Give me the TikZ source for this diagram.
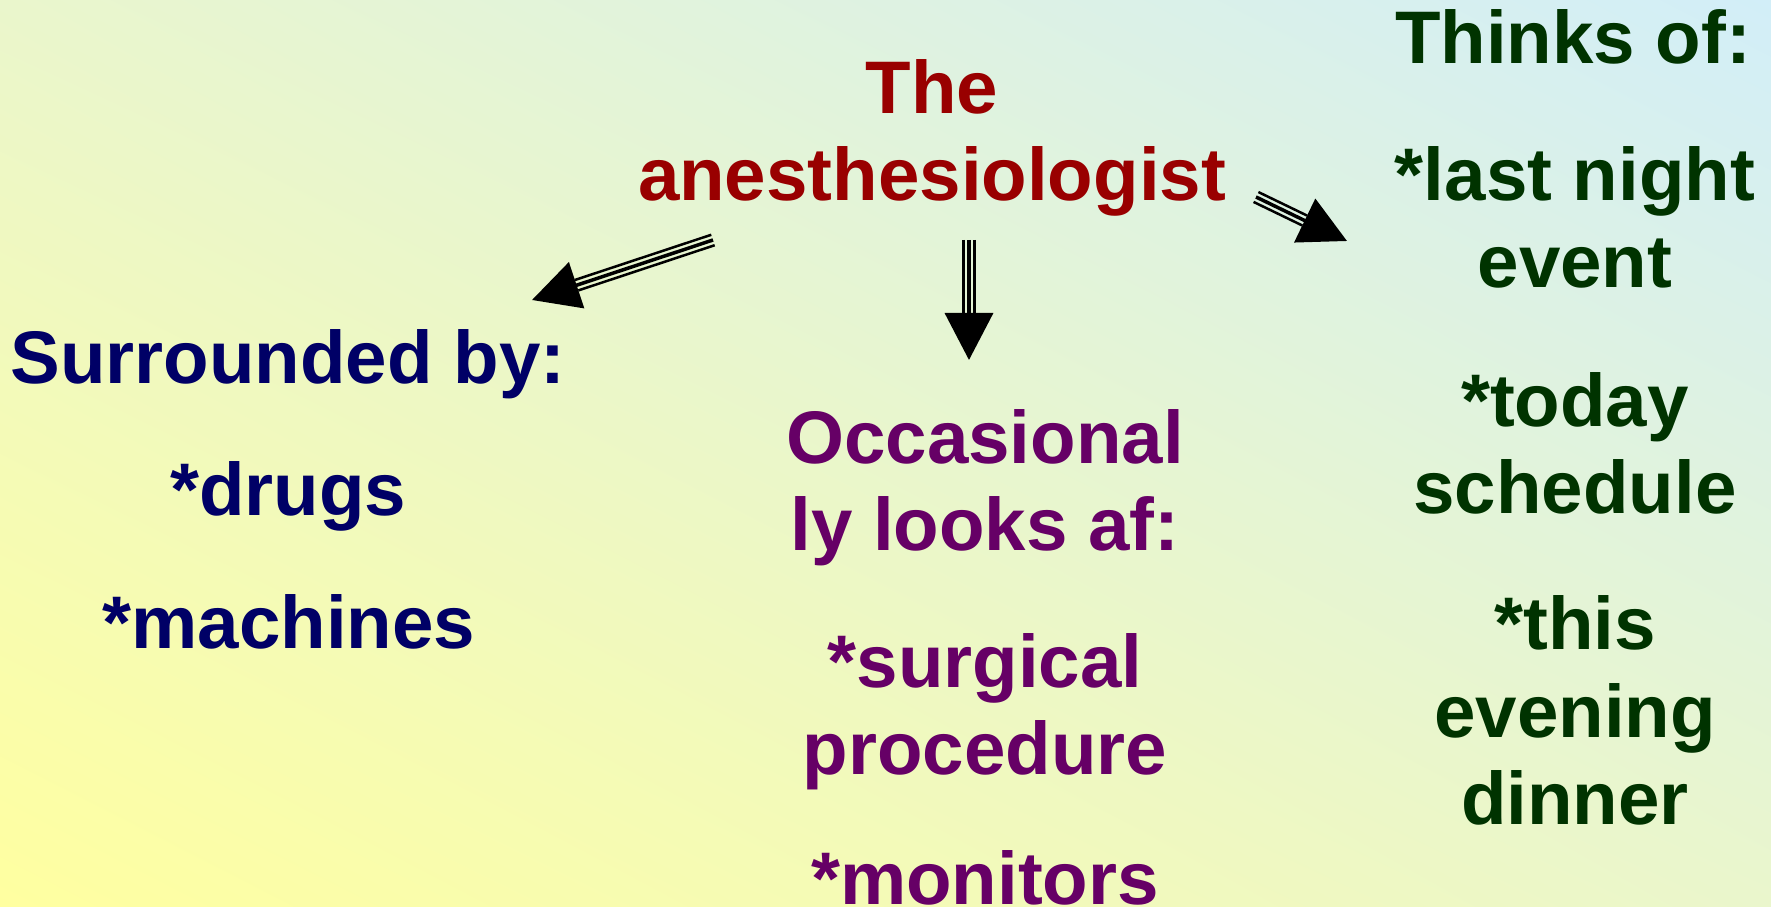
\documentclass[tikz,border=0pt]{standalone}
\usepackage{fontspec}
\setmainfont{Liberation Sans}
\usetikzlibrary{arrows.meta,positioning,calc,shadings}
\definecolor{Anes}{HTML}{990000}
\definecolor{Surr}{HTML}{000066}
\definecolor{Occ}{HTML}{660066}
\definecolor{Thinks}{HTML}{003300}
\definecolor{BgYellow}{RGB}{255,255,160}
\definecolor{BgBlue}{RGB}{210,238,248}
\definecolor{BgMid}{RGB}{234,246,204}

\begin{document}
\begin{tikzpicture}[
 t/.style={anchor=base,align=center,inner sep=0pt,font=\fontsize{21.2}{25}\selectfont\bfseries},
 shaft/.style={line width=0.25mm,draw=black},
 core/.style={line width=0.35mm,draw=black,-{Triangle[length=4.7mm,width=4.8mm]}}
]
\useasboundingbox (0,0) rectangle (17.71,-9.07);
\shade[lower left=BgYellow,upper right=BgBlue,upper left=BgMid,lower right=BgMid] (0,0) rectangle (17.71,-9.07);
% texts (base = last line)
\node[t,text=Anes] (anes) at (9.32,-2.01) {The\\anesthesiologist};
\node[t,text=Surr] (surr) at (2.88,-3.84) {Surrounded by:};
\node[t,text=Surr] (drugs) at (2.88,-5.16) {*drugs};
\node[t,text=Surr] (machines) at (2.89,-6.49) {*machines};
\node[t,text=Occ] (occ) at (9.85,-5.51) {Occasional\\ly looks af:};
\node[t,text=Occ] (surg) at (9.85,-7.75) {*surgical\\procedure};
\node[t,text=Occ] (monitors) at (9.85,-9.05) {*monitors};
\node[t,text=Thinks] (thinks) at (15.73,-0.64) {Thinks of:};
\node[t,text=Thinks] (night) at (15.75,-2.88) {*last night\\event};
\node[t,text=Thinks] (today) at (15.75,-5.14) {*today\\schedule};
\node[t,text=Thinks] (dinner) at (15.75,-8.25) {*this\\evening\\dinner};
% arrow ends
\coordinate (lfrom) at (7.13,-2.40); \coordinate (lto) at (5.32,-3.00);
\coordinate (dfrom) at (9.69,-2.40); \coordinate (dto) at (9.69,-3.60);
\coordinate (rfrom) at (12.56,-1.97); \coordinate (rto) at (13.47,-2.41);
\foreach \s/\e in {lfrom/lto,dfrom/dto,rfrom/rto}{
 \coordinate (hb) at ($(\e)!4.7mm!(\s)$);
 \draw[core] (\s)--(\e);
 \draw[shaft] ($(\s)!0.55mm!90:(hb)$)--($(hb)!0.55mm!-90:(\s)$);
 \draw[shaft] ($(\s)!0.55mm!-90:(hb)$)--($(hb)!0.55mm!90:(\s)$);
}
\end{tikzpicture}
\end{document}
